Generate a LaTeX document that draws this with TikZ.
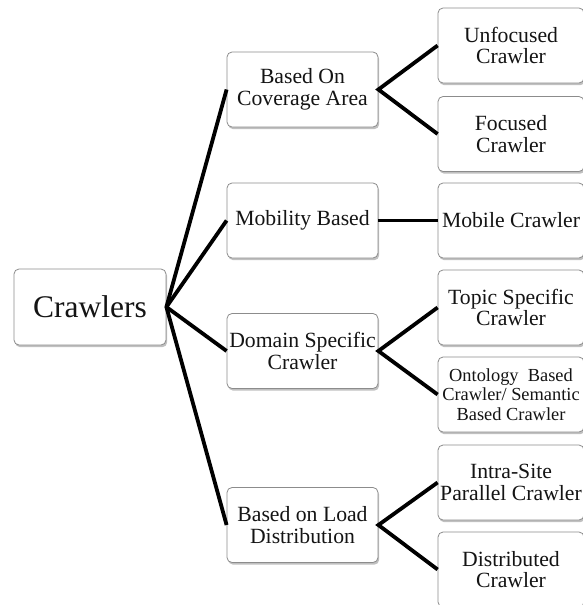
\documentclass[tikz,border=0pt]{standalone}
\usepackage{fontspec}
\setmainfont{Liberation Serif}
\usetikzlibrary{shadows}
\begin{document}
\begin{tikzpicture}[x=1pt,y=-1pt,
  box/.style={draw=black!45, line width=0.8pt, rounded corners=5pt, fill=white,
    inner sep=0pt, align=center, text=black!92,
    drop shadow={shadow xshift=1.2pt, shadow yshift=-2.2pt, opacity=0.35, fill=black!70}},
  rootbox/.style={box, minimum width=152pt, minimum height=76pt, font=\fontsize{31.5}{33}\selectfont},
  midbox/.style={box, minimum width=151pt, minimum height=75pt, font=\fontsize{21.7}{21.8}\selectfont},
  leafbox/.style={box, minimum width=146pt, minimum height=75pt, font=\fontsize{21.7}{21.8}\selectfont},
  smallbox/.style={leafbox, font=\fontsize{18.4}{19.7}\selectfont},
  link/.style={line width=3.8pt, black}
]
\useasboundingbox (0,0) rectangle (582,605);
\fill[white] (0,0) rectangle (582,605);

\node[rootbox] (root) at (90,307) {Crawlers};

\node[midbox] (cov) at (302.5,89.5) {Based On\\Coverage Area};
\node[midbox] (mob) at (302.5,220.5) {Mobility Based};
\node[midbox] (dom) at (302.5,351) {Domain Specific\\Crawler};
\node[midbox] (load) at (302.5,525) {Based on Load\\Distribution};

\node[leafbox] (unf) at (511,45.5) {Unfocused\\Crawler};
\node[leafbox] (foc) at (511,134) {Focused\\Crawler};
\node[leafbox] (mcr) at (511,220.5) {Mobile Crawler};
\node[leafbox] (top) at (511,307.5) {Topic Specific\\Crawler};
\node[smallbox] (ont) at (511,394.5) {Ontology\ \ Based\\Crawler/ Semantic\\Based Crawler};
\node[leafbox] (intra) at (511,482.5) {Intra-Site\\Parallel Crawler};
\node[leafbox] (dist) at (511,569.5) {Distributed\\Crawler};

\draw[link] (cov.west) -- (root.east) -- (load.west);
\draw[link] (root.east) -- (mob.west);
\draw[link] (root.east) -- (dom.west);

\draw[link] (unf.west) -- (cov.east) -- (foc.west);
\draw[link] (mob.east) -- (mcr.west);
\draw[link] (top.west) -- (dom.east) -- (ont.west);
\draw[link] (intra.west) -- (load.east) -- (dist.west);
\end{tikzpicture}
\end{document}
